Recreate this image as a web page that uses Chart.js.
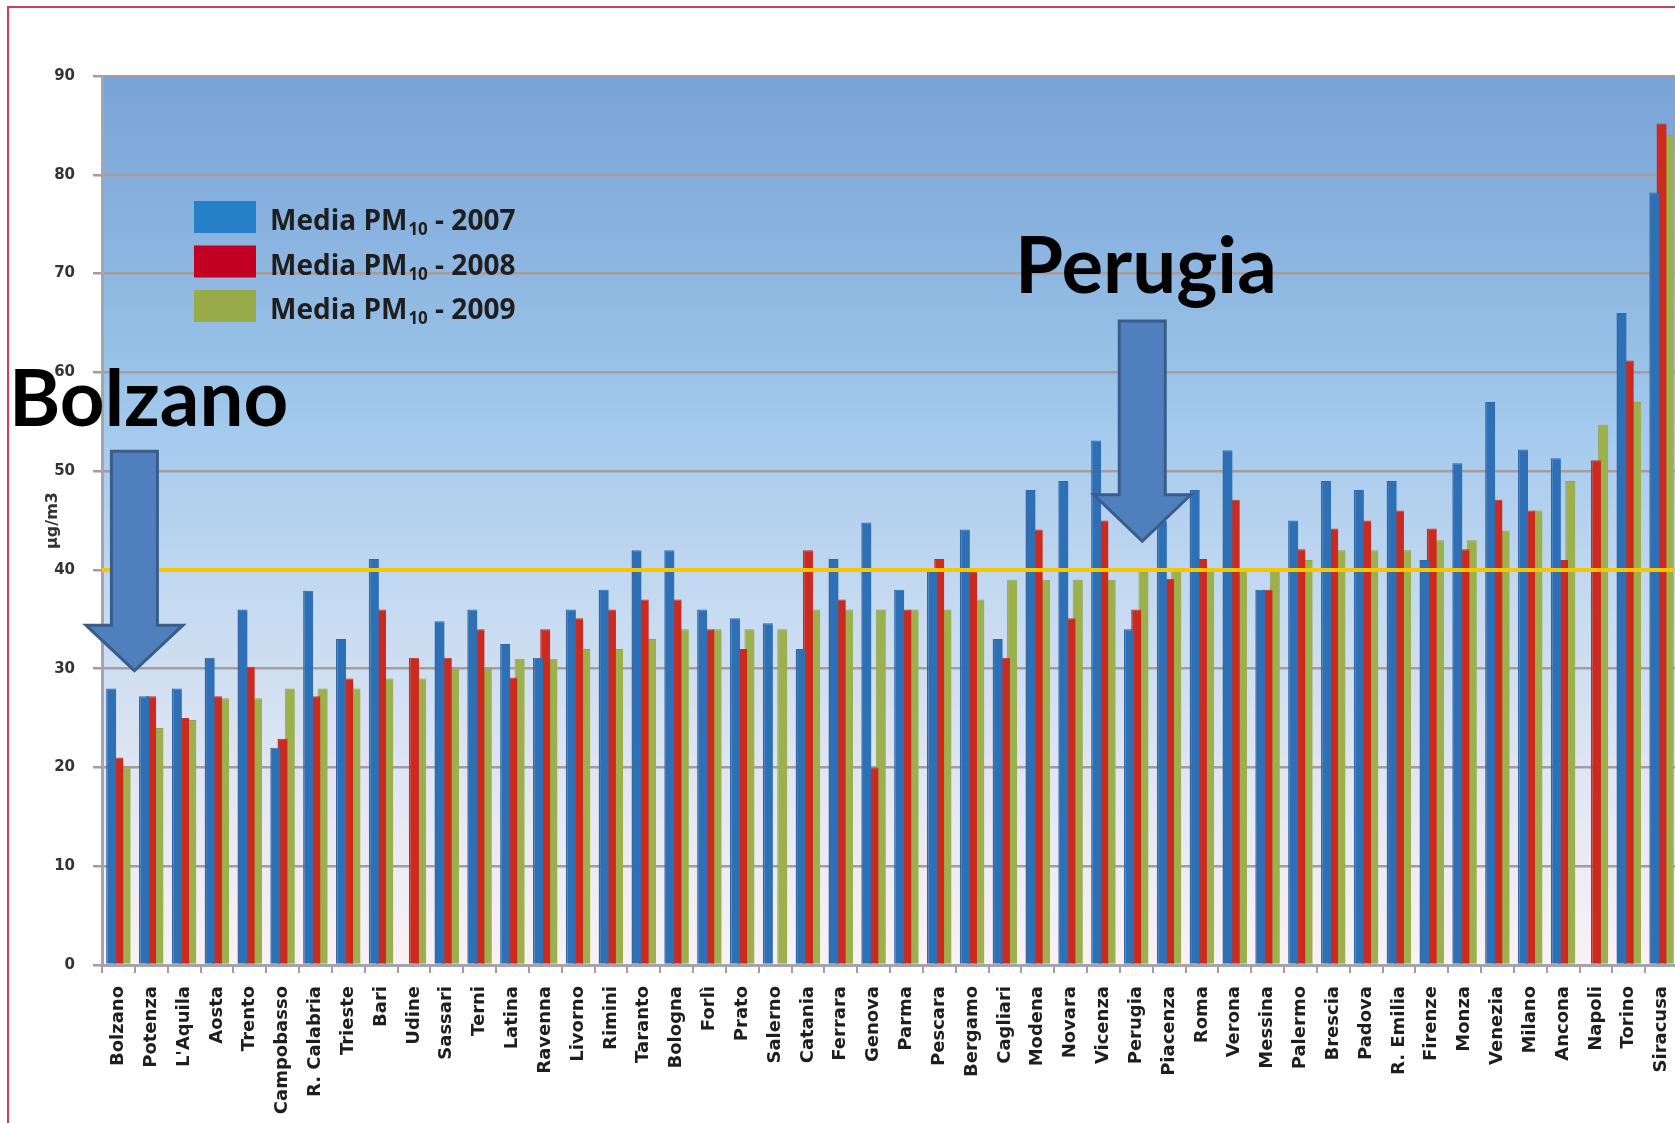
<!DOCTYPE html>
<html>
<head>
<meta charset="utf-8">
<script src="https://cdn.jsdelivr.net/npm/chart.js@4.4.1/dist/chart.umd.min.js"></script>
<style>
html, body { margin: 0; padding: 0; background: #fff; overflow: hidden; }
#wrap { position: relative; width: 1675px; height: 1123px; overflow: hidden; }
#wrap canvas { position: absolute; left: 0; top: 0; }
#frame { position: absolute; left: 7px; top: 6px; width: 1700px; height: 1200px;
  border-top: 2px solid #c9405a; border-left: 2px solid #c9405a; pointer-events: none; }
</style>
</head>
<body>
<div id="wrap">
  <canvas id="chart" width="1687" height="1123"></canvas>
  <div id="frame"></div>
</div>
<script>
// città, ordinate per media 2009
const cities = ["Bolzano", "Potenza", "L'Aquila", "Aosta", "Trento", "Campobasso", "R. Calabria", "Trieste",
  "Bari", "Udine", "Sassari", "Terni", "Latina", "Ravenna", "Livorno", "Rimini", "Taranto", "Bologna",
  "Forlì", "Prato", "Salerno", "Catania", "Ferrara", "Genova", "Parma", "Pescara", "Bergamo", "Cagliari",
  "Modena", "Novara", "Vicenza", "Perugia", "Piacenza", "Roma", "Verona", "Messina", "Palermo", "Brescia",
  "Padova", "R. Emilia", "Firenze", "Monza", "Venezia", "Milano", "Ancona", "Napoli", "Torino", "Siracusa"];

const pm2007 = [28, 27.2, 28, 31.1, 36, 22, 37.9, 33, 41.1, null, 34.8, 36, 32.5, 31.1, 36, 38, 42, 42,
  36, 35.1, 34.6, 32, 41.1, 44.8, 38, 40, 44.1, 33, 48.1, 49, 53.1, 34, 45, 48.1, 52.1, 38, 45, 49,
  48.1, 49, 41, 50.8, 57, 52.2, 51.3, null, 66, 78.2];

const pm2008 = [21, 27.2, 25, 27.2, 30.2, 22.9, 27.2, 29, 36, 31.1, 31.1, 34, 29.1, 34, 35.1, 36, 37, 37,
  34, 32, null, 42, 37, 20, 36, 41.1, 39.8, 31.1, 44.1, 35.1, 45, 36, 39.1, 41.1, 47.1, 38, 42.1, 44.2,
  45, 46, 44.2, 42.1, 47.1, 46, 41, 51.1, 61.2, 85.2];

const pm2009 = [20, 24, 24.8, 27, 27, 28, 28, 28, 29, 29, 30, 30, 31, 31, 32, 32, 33, 34,
  34, 34, 34, 36, 36, 36, 36, 36, 37, 39, 39, 39, 39, 40, 40, 40, 40, 40, 41, 42,
  42, 42, 43, 43, 44, 46, 49, 54.7, 57, 84];

const seriesLabels = ['Media PM10 - 2007', 'Media PM10 - 2008', 'Media PM10 - 2009'];
const limitValue = 40;   // valore limite annuale
const yMin = 0, yMax = 90, yStep = 10;
const yTitle = 'µg/m3';

// frecce e scritte di richiamo (posizione in valori dell'asse)
const callouts = [
  { city: 'Bolzano', dx: 16, top: 52, head: 34.4, tip: 29.8, textX: 9, textY: 54.6 },
  { city: 'Perugia', dx: 6, top: 65.2, head: 47.6, tip: 42.9, textX: 1015, textY: 68.0 }
];

const FONT = '"DejaVu Sans", sans-serif';
const gridGray = '#a59ca0';

// sfondo sfumato dell'area del grafico
const bgPlugin = {
  id: 'plotBg',
  beforeDraw(chart) {
    const { ctx, chartArea: a } = chart;
    const g = ctx.createLinearGradient(0, a.top, 0, a.bottom);
    g.addColorStop(0, '#78a3d7');
    g.addColorStop(0.12, '#84aedc');
    g.addColorStop(0.3, '#96bfe6');
    g.addColorStop(0.42, '#a7ccee');
    g.addColorStop(0.5, '#b6d2ef');
    g.addColorStop(0.6, '#c6dbf1');
    g.addColorStop(0.7, '#d4e0f2');
    g.addColorStop(0.8, '#e2e7f4');
    g.addColorStop(0.9, '#eeecf4');
    g.addColorStop(1, '#f9f2f6');
    ctx.save();
    ctx.fillStyle = g;
    ctx.fillRect(a.left, a.top, a.right - a.left, a.bottom - a.top);
    ctx.restore();
  }
};

function blockArrow(ctx, cx, top, headY, tipY, shaftW, headW) {
  ctx.beginPath();
  ctx.moveTo(cx - shaftW / 2, top);
  ctx.lineTo(cx + shaftW / 2, top);
  ctx.lineTo(cx + shaftW / 2, headY);
  ctx.lineTo(cx + headW / 2, headY);
  ctx.lineTo(cx, tipY);
  ctx.lineTo(cx - headW / 2, headY);
  ctx.lineTo(cx - shaftW / 2, headY);
  ctx.closePath();
  ctx.fillStyle = '#4f80bd';
  ctx.fill();
  ctx.lineWidth = 3;
  ctx.strokeStyle = '#385d8a';
  ctx.stroke();
}

const overlayPlugin = {
  id: 'overlay',
  afterDatasetsDraw(chart) {
    const { ctx, chartArea: a, scales: { x, y } } = chart;
    ctx.save();

    // linea del limite
    const ly = y.getPixelForValue(limitValue);
    ctx.strokeStyle = '#f7c600';
    ctx.lineWidth = 4;
    ctx.beginPath();
    ctx.moveTo(a.left, ly);
    ctx.lineTo(a.right, ly);
    ctx.stroke();

    // legenda
    const bx = a.left + 92, by = a.top + 125;
    chart.data.datasets.forEach((ds, i) => {
      const rowY = by + i * 44.5;
      ctx.fillStyle = ds.legendColor;
      ctx.fillRect(bx, rowY, 62, 32);
      const parts = ds.label.split('PM10');
      let tx = bx + 76;
      const base = rowY + 29;
      ctx.fillStyle = '#1e1e1e';
      ctx.textBaseline = 'alphabetic';
      ctx.textAlign = 'left';
      ctx.font = 'bold 28px "Open Sans", sans-serif';
      ctx.fillText(parts[0] + 'PM', tx, base);
      tx += ctx.measureText(parts[0] + 'PM').width + 1;
      ctx.font = 'bold 17px "Open Sans", sans-serif';
      ctx.fillText('10', tx, base + 5);
      tx += ctx.measureText('10').width;
      ctx.font = 'bold 28px "Open Sans", sans-serif';
      ctx.fillText(parts[1], tx, base);
    });

    // frecce e scritte
    callouts.forEach(c => {
      const cx = x.getPixelForValue(cities.indexOf(c.city)) + c.dx;
      blockArrow(ctx, cx, y.getPixelForValue(c.top), y.getPixelForValue(c.head),
        y.getPixelForValue(c.tip), 46, 97);
      ctx.fillStyle = '#000';
      ctx.font = 'bold 78px Lato, sans-serif';
      ctx.textAlign = 'left';
      ctx.textBaseline = 'alphabetic';
      ctx.fillText(c.city, c.textX, y.getPixelForValue(c.textY));
    });

    ctx.restore();
  }
};

new Chart(document.getElementById('chart'), {
  type: 'bar',
  data: {
    labels: cities,
    datasets: [
      { label: seriesLabels[0], data: pm2007, backgroundColor: '#2e70b6', borderColor: '#3565a3',
        borderWidth: { left: 1.5, right: 0, top: 1, bottom: 0 }, legendColor: '#2580c8' },
      { label: seriesLabels[1], data: pm2008, backgroundColor: '#cc2a1e', borderColor: '#b8302a',
        borderWidth: { left: 1.5, right: 0, top: 1, bottom: 0 }, legendColor: '#c20023' },
      { label: seriesLabels[2], data: pm2009, backgroundColor: '#9cb04e', borderColor: '#8fa448',
        borderWidth: { left: 1, right: 0, top: 1, bottom: 0 }, legendColor: '#98ab48' }
    ]
  },
  options: {
    responsive: false,
    animation: false,
    devicePixelRatio: 1,
    layout: { padding: { top: 76, left: 0, right: 9, bottom: 0 } },
    datasets: { bar: { categoryPercentage: 0.66, barPercentage: 1.4 } },
    plugins: { legend: { display: false }, tooltip: { enabled: false } },
    scales: {
      x: {
        afterFit(scale) {
          scale.height = 158;
          scale.paddingLeft = 0;
          scale.paddingRight = 0;
        },
        grid: { drawOnChartArea: false, drawTicks: true, tickLength: 8, tickColor: gridGray, lineWidth: 2 },
        border: { color: '#a4a4ac', width: 3 },
        ticks: {
          autoSkip: false, maxRotation: 90, minRotation: 90, padding: 13,
          color: '#1e1e1e', font: { family: FONT, size: 18, weight: 'bold' }
        }
      },
      y: {
        min: yMin, max: yMax,
        afterFit(scale) { scale.width = 102; },
        grid: { color: gridGray, lineWidth: 2.5, tickLength: 9, tickColor: gridGray },
        border: { color: '#a4a4ac', width: 3 },
        ticks: {
          stepSize: yStep, padding: 18, color: '#333',
          font: { family: FONT, size: 15, weight: 'bold' }
        },
        title: {
          display: true, text: yTitle, color: '#333', padding: { top: 43, bottom: 0 },
          font: { family: FONT, size: 16, weight: 'bold' }
        }
      }
    }
  },
  plugins: [bgPlugin, overlayPlugin]
});
</script>
</body>
</html>
